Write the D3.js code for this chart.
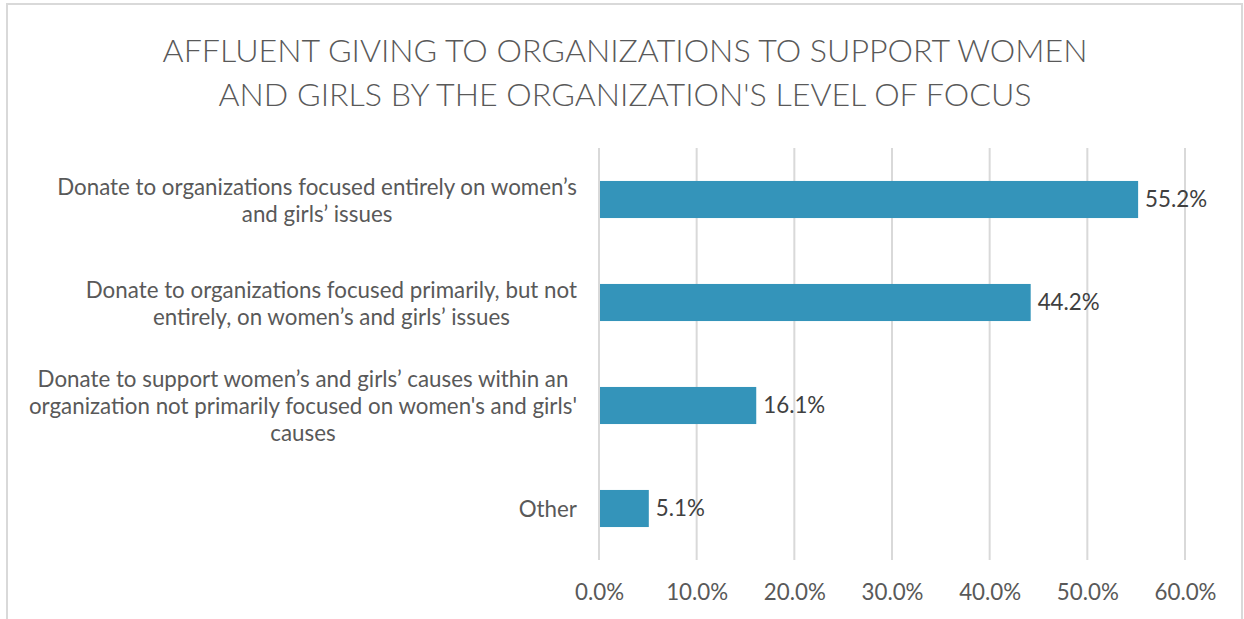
<!DOCTYPE html>
<html>
<head>
<meta charset="utf-8">
<script src="https://cdn.jsdelivr.net/npm/d3@7"></script>
<style>
  html, body { margin: 0; padding: 0; background: #fff; }
  svg { display: block; font-family: Lato, "Open Sans", sans-serif; }
</style>
</head>
<body>
<svg id="chart" width="1244" height="619"></svg>
<script>
const titleLines = [
  "AFFLUENT GIVING TO ORGANIZATIONS TO SUPPORT WOMEN",
  "AND GIRLS BY THE ORGANIZATION'S LEVEL OF FOCUS"
];
const categories = [
  ["Donate to organizations focused entirely on women’s", "and girls’ issues"],
  ["Donate to organizations focused primarily, but not", "entirely, on women’s and girls’ issues"],
  ["Donate to support women’s and girls’ causes within an", "organization not primarily focused on women's and girls'", "causes"],
  ["Other"]
];
const values = [55.2, 44.2, 16.1, 5.1];
const tickValues = [0, 10, 20, 30, 40, 50, 60];

const svg = d3.select("#chart");
const plot = { left: 599, right: 1185, top: 148, bottom: 560 };

// border
svg.append("rect").attr("x", 7).attr("y", 4).attr("width", 1235).attr("height", 640)
  .attr("fill", "#fff").attr("stroke", "#d9d9d9").attr("stroke-width", 2);

function fitSize(text, base, target, weight) {
  const t = svg.append("text").attr("font-size", base).attr("font-weight", weight || 400).text(text);
  const w = t.node().getComputedTextLength();
  t.remove();
  return base * target / w;
}
const labelSize = fitSize(categories[0][0], 20, 520);
const titleSize = fitSize(titleLines[0], 30, 925, 300);

const x = d3.scaleLinear().domain([0, 60]).range([plot.left, plot.right]);
const y = d3.scaleBand().domain(d3.range(categories.length))
  .range([plot.top, plot.bottom]).paddingInner(0.64).paddingOuter(0.32);

// gridlines
svg.append("g").selectAll("line").data(tickValues).join("line")
  .attr("x1", d => x(d)).attr("x2", d => x(d))
  .attr("y1", plot.top).attr("y2", plot.bottom)
  .attr("stroke", "#d9d9d9").attr("stroke-width", 2);

// bars
svg.append("g").selectAll("rect").data(values).join("rect")
  .attr("x", x(0) + 1).attr("y", (d, i) => y(i))
  .attr("width", d => x(d) - x(0) - 1).attr("height", y.bandwidth())
  .attr("fill", "#3494ba");

// data labels
svg.append("g").selectAll("text").data(values).join("text")
  .attr("x", d => x(d) + 7).attr("y", (d, i) => y(i) + y.bandwidth() / 2)
  .attr("dy", "0.35em").attr("font-size", labelSize).attr("fill", "#404040")
  .text(d => d.toFixed(1) + "%");

// x axis tick labels
const xAxis = d3.axisBottom(x).tickValues(tickValues).tickSize(0).tickPadding(0)
  .tickFormat(d => d.toFixed(1) + "%");
const gx = svg.append("g").attr("transform", `translate(0,${plot.bottom})`).call(xAxis);
gx.select(".domain").remove();
gx.selectAll("text").attr("font-size", labelSize).attr("fill", "#595959")
  .attr("font-family", "Lato, 'Open Sans', sans-serif")
  .attr("y", 32).attr("dy", "0.35em");

// category labels
const lineH = 27;
const rightEdge = 577;
categories.forEach((lines, i) => {
  const cy = y(i) + y.bandwidth() / 2;
  const t = svg.append("text").attr("font-size", labelSize).attr("fill", "#595959")
    .attr("text-anchor", "middle");
  lines.forEach((ln, j) => {
    t.append("tspan").attr("y", cy + (j - (lines.length - 1) / 2) * lineH + 1)
      .attr("dy", "0.35em").text(ln);
  });
  const maxW = d3.max(t.selectAll("tspan").nodes(), n => n.getComputedTextLength());
  t.selectAll("tspan").attr("x", rightEdge - maxW / 2);
});

// title
const title = svg.append("text").attr("text-anchor", "middle")
  .attr("font-size", titleSize).attr("font-weight", 300).attr("fill", "#595959");
titleLines.forEach((ln, j) => {
  title.append("tspan").attr("x", 625).attr("y", 62 + j * 44).text(ln);
});
</script>
</body>
</html>
